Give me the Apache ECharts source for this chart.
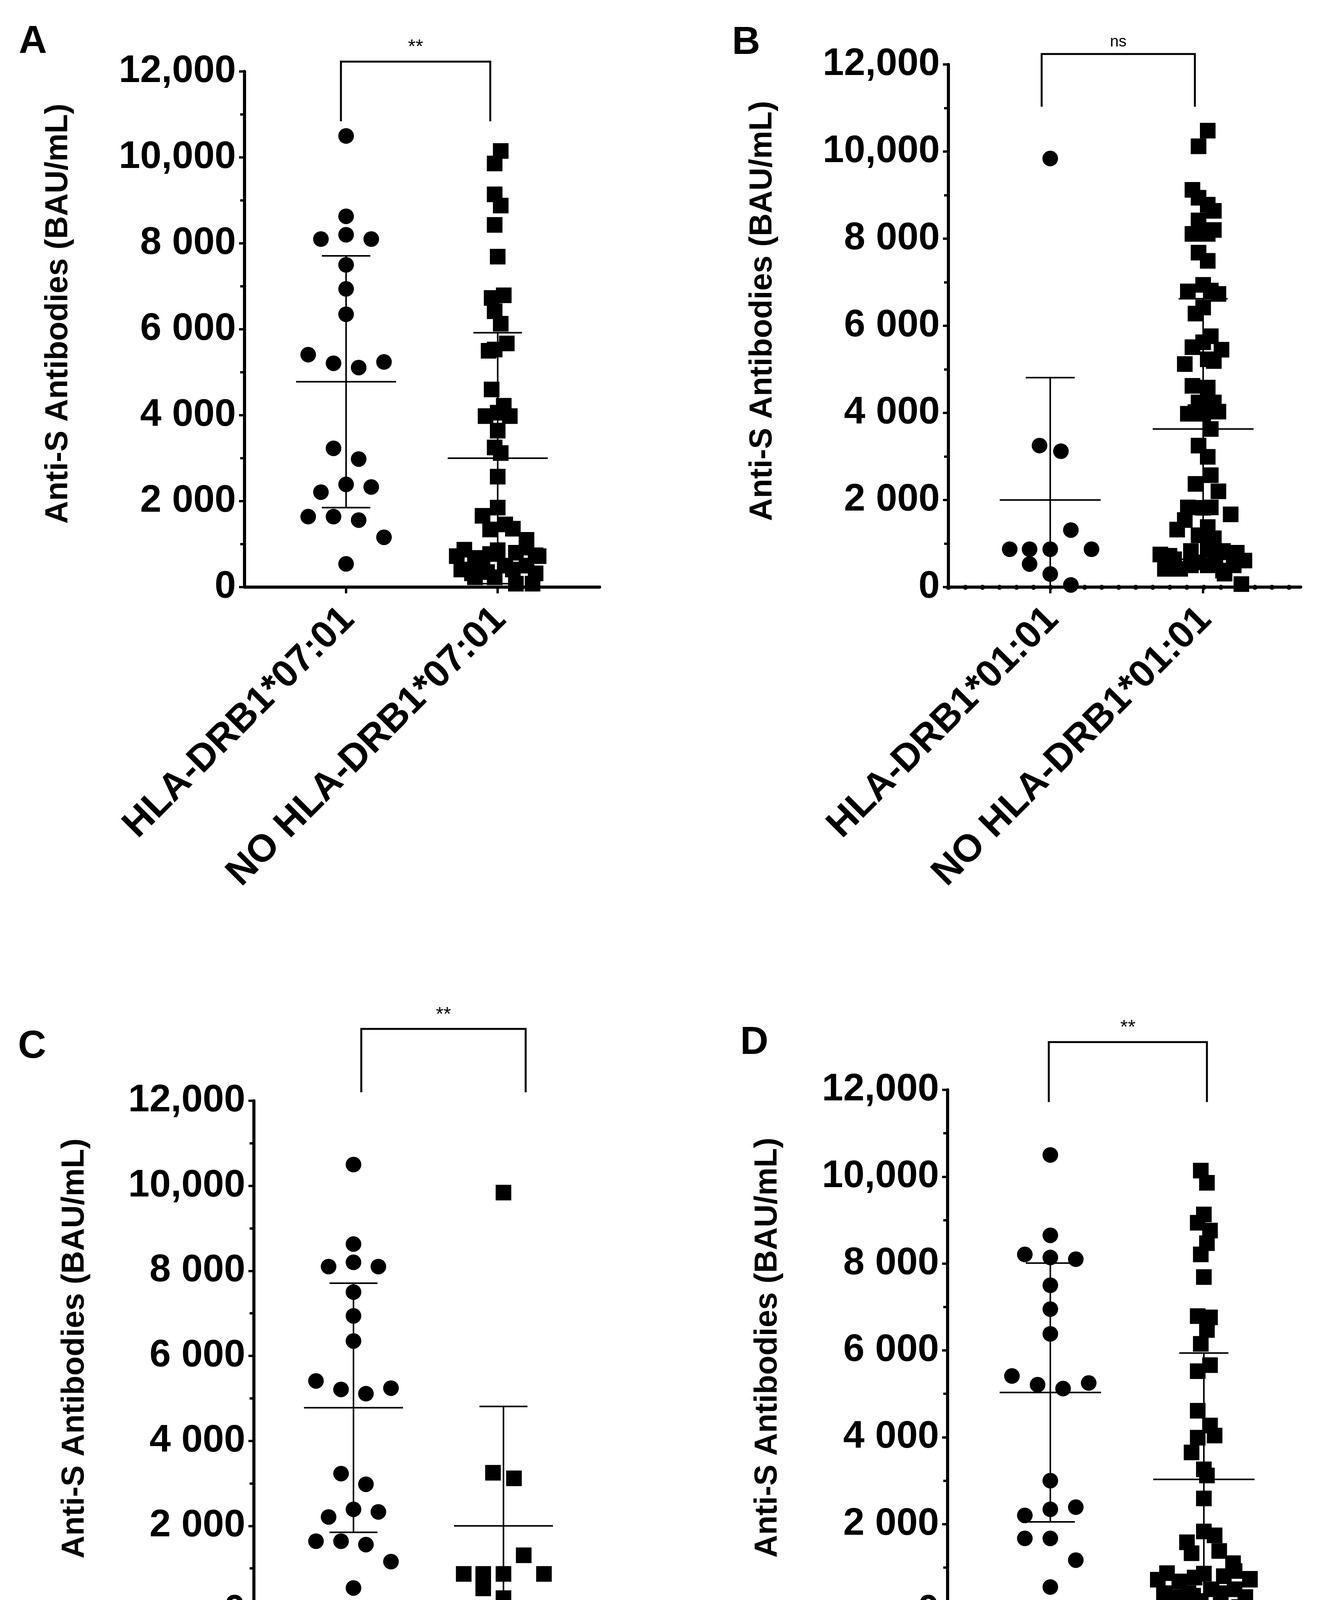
<!DOCTYPE html>
<html>
<head>
<meta charset="utf-8">
<script src="https://cdn.jsdelivr.net/npm/echarts@6/dist/echarts.min.js"></script>
<style>html,body{margin:0;padding:0;background:#fff}#c{width:3405px;height:4827px}</style>
</head>
<body>
<div id="c"></div>
<script>
// ---------------- DATA ----------------
const yTickValues = [0, 2000, 4000, 6000, 8000, 10000, 12000];
const yTickLabels = ['0', '2 000', '4 000', '6 000', '8 000', '10,000', '12,000'];
const yAxisTitle = 'Anti-S Antibodies (BAU/mL)';

const catsA = ['HLA-DRB1*07:01', 'NO HLA-DRB1*07:01'];
const catsB = ['HLA-DRB1*01:01', 'NO HLA-DRB1*01:01'];
const catsC = ['HLA-DRB1*07:01', 'HLA-DRB1*01:01'];
const catsD = ['H07:01', 'NO H07:01'];
const panelLetters = ['A', 'B', 'C', 'D'];
const significance = ['**', 'ns', '**', '**'];

// HLA-DRB1*07:01 carriers (BAU/mL) and horizontal jitter (fraction of category spacing)
const drb0701Values = [10500, 8630, 8100, 8200, 8100, 7500, 6940, 6350, 5410, 5210, 5110, 5240, 3230, 2980, 2390, 2210, 2330, 1640, 1640, 1560, 1160, 540];
const drb0701Jitter = [0, 0, -0.166, 0, 0.166, 0, 0, 0, -0.25, -0.083, 0.083, 0.25, -0.083, 0.083, 0, -0.166, 0.166, -0.25, -0.083, 0.083, 0.25, 0];

// NO HLA-DRB1*07:01
const noDrb0701Values = [10150, 9860, 9140, 8880, 8430, 7690, 6730, 6790, 6420, 6130, 5670, 5500, 5530, 4600, 4220, 3980, 3980, 4060, 3640, 3250, 3120, 2570, 1850, 1660, 1340, 1460, 1360, 1100, 870, 720, 860, 770, 740, 920, 800, 680, 410, 320, 410, 500, 410, 500, 350, 320, 80, 80, 230, 230, 720];
const noDrb0701Jitter = [0.02, -0.02, -0.02, 0.02, -0.02, 0, -0.04, 0.04, -0.02, 0.02, 0.06, -0.06, -0.02, -0.04, 0.04, -0.08, 0.08, 0, 0, -0.02, 0.02, 0, 0, -0.1, -0.05, 0.05, 0.1, 0.19, -0.22, -0.27, 0, -0.05, 0.25, 0.19, 0.12, -0.15, -0.24, -0.17, -0.1, 0.05, 0.1, 0.19, -0.07, 0.25, 0.12, 0.23, -0.15, -0.02, 0.27];

// HLA-DRB1*01:01 carriers
const drb0101Values = [9840, 3250, 3120, 1310, 870, 870, 870, 870, 530, 300, 50];
const drb0101Jitter = [0, -0.07, 0.07, 0.135, -0.265, -0.135, 0, 0.27, -0.135, 0, 0.135];

// NO HLA-DRB1*01:01
const noDrb0101Values = [10480, 10120, 9120, 8940, 8780, 8640, 8420, 8110, 8110, 8200, 7680, 7490, 6940, 6790, 6810, 6730, 6280, 6420, 5760, 5620, 5510, 5450, 5230, 5190, 5120, 4620, 4580, 4240, 4240, 3980, 4020, 4030, 3980, 3630, 3250, 2990, 2570, 2370, 2200, 1830, 1820, 1830, 1670, 1540, 1320, 1190, 1120, 1380, 750, 720, 420, 420, 830, 500, 860, 500, 830, 380, 790, 610, 500, 310, 70, 570, 640, 640];
const noDrb0101Jitter = [0.03, -0.03, -0.07, -0.03, 0.03, 0.07, -0.03, -0.07, 0.03, 0.07, -0.03, 0.03, 0, -0.1, 0.05, 0.1, -0.05, 0, 0.05, 0, -0.07, 0.12, 0.03, 0.07, -0.12, -0.07, 0.03, -0.03, 0.07, -0.1, -0.05, 0.1, 0, 0.05, -0.03, 0.03, 0.05, -0.05, 0.1, -0.1, 0, 0.05, 0.18, -0.12, -0.17, -0.03, 0.07, 0.03, -0.28, -0.22, -0.25, -0.15, -0.08, -0.08, 0.03, 0.03, 0.13, 0.13, 0.22, 0.27, 0.2, 0.14, 0.25, -0.03, 0.08, -0.19];

// H07:01 / NO H07:01
const h0701Values = [10500, 8650, 8210, 8140, 8100, 7500, 6950, 6380, 5410, 5210, 5120, 5250, 3000, 2340, 2390, 2200, 1670, 1670, 1170, 550];
const h0701Jitter = [0, 0, -0.166, 0, 0.166, 0, 0, 0, -0.25, -0.083, 0.083, 0.25, 0, 0, 0.166, -0.166, -0.166, 0, 0.166, 0];
const noH0701Values = [10140, 9860, 9130, 8940, 8760, 8470, 8210, 7690, 6790, 6760, 6470, 6150, 5660, 5520, 4610, 4270, 3990, 4040, 3650, 3260, 3120, 2590, 1830, 1740, 1580, 1330, 1380, 1100, 870, 720, 860, 770, 740, 920, 800, 680, 410, 320, 410, 500, 410, 500, 350, 320, 90, 90, 230, 230, 720];
const noH0701Jitter = [-0.02, 0.02, 0, -0.04, 0.04, 0.02, -0.02, 0, -0.04, 0.04, 0.02, -0.02, 0.04, -0.04, -0.04, 0.04, -0.04, 0.07, -0.08, 0, 0.02, 0, 0, 0.07, -0.11, -0.08, 0.1, 0.19, -0.24, -0.3, 0, -0.06, 0.3, 0.2, 0.13, -0.16, -0.26, -0.18, -0.1, 0.05, 0.11, 0.2, -0.07, 0.27, 0.11, 0.23, -0.16, -0.02, 0.3];

// Mean and SD (error bars) per panel, [group1, group2]
const meansA = [4780, 3000], sdsA = [2930, 2920];
const meansB = [2000, 3630], sdsB = [2810, 2990];
const meansC = [4780, 2000], sdsC = [2930, 2810];
const meansD = [5030, 3030], sdsD = [2980, 2910];

// ---------------- LAYOUT ----------------
const FONT = "'Liberation Sans', Arial, Helvetica, sans-serif";
const panels = [
  { grid: { left: 626, top: 183, width: 909, height: 1320 }, xMin: 0.330, xMax: 2.672, dotted: false,
    groups: [[drb0701Values, drb0701Jitter, 'circle'], [noDrb0701Values, noDrb0701Jitter, 'rect']],
    cats: catsA, means: meansA, sds: sdsA, bracket: [0.966, 1.951, 12230, 10840],
    letter: [48, 108], title: [150, 803] },
  { grid: { left: 2428, top: 165, width: 902, height: 1338 }, xMin: 0.334, xMax: 2.638, dotted: true,
    groups: [[drb0101Values, drb0101Jitter, 'circle'], [noDrb0101Values, noDrb0101Jitter, 'rect']],
    cats: catsB, means: meansB, sds: sdsB, bracket: [0.944, 1.946, 12240, 11030],
    letter: [1874, 110], title: [1953, 796] },
  { grid: { left: 650, top: 2818, width: 897, height: 1306 }, xMin: 0.336, xMax: 2.672, dotted: true,
    groups: [[drb0701Values, drb0701Jitter, 'circle'], [drb0101Values, drb0101Jitter, 'rect']],
    cats: catsC, means: meansC, sds: sdsC, bracket: [1.052, 2.148, 13690, 12200],
    letter: [46, 2680], title: [192, 3452] },
  { grid: { left: 2426, top: 2790, width: 921, height: 1334 }, xMin: 0.331, xMax: 2.674, dotted: false,
    groups: [[h0701Values, h0701Jitter, 'circle'], [noH0701Values, noH0701Jitter, 'rect']],
    cats: catsD, means: meansD, sds: sdsD, bracket: [0.99, 2.02, 13100, 11720],
    letter: [1895, 2670], title: [1966, 3450] }
];

const grids = [], xAxes = [], yAxes = [], series = [], graphics = [];

panels.forEach((p, pi) => {
  grids.push(Object.assign({ containLabel: false }, p.grid));
  const xi = xAxes.length;
  xAxes.push({
    type: 'value', gridIndex: pi, min: p.xMin, max: p.xMax, position: 'bottom',
    axisLine: { show: true, onZero: false, lineStyle: { color: '#000', width: 8 } },
    axisTick: { show: true, customValues: [1, 2], length: 16, lineStyle: { color: '#000', width: 6 } },
    axisLabel: {
      show: true, customValues: [1.015, 2.015], rotate: 45, margin: 68, interval: 0,
      fontSize: 98, fontWeight: 'bold', fontFamily: FONT, color: '#000',
      formatter: v => p.cats[Math.round(v) - 1] || ''
    },
    splitLine: { show: false }
  });
  if (p.dotted) {
    xAxes.push({
      type: 'value', gridIndex: pi, min: p.xMin, max: p.xMax, position: 'bottom',
      axisLine: { show: true, onZero: false, lineStyle: { color: '#000', width: 13, type: [0.1, 43.5], cap: 'round' } },
      axisTick: { show: false }, axisLabel: { show: false }, splitLine: { show: false }
    });
  }
  yAxes.push({
    type: 'value', gridIndex: pi, min: 0, max: 12000, interval: 2000,
    axisLine: { show: true, onZero: false, lineStyle: { color: '#000', width: 8 } },
    axisTick: { show: true, length: 14, lineStyle: { color: '#000', width: 6 } },
    minorTick: { show: true, splitNumber: 2, length: 11, lineStyle: { color: '#000', width: 6 } },
    axisLabel: {
      show: true, margin: 22, fontSize: 98, fontWeight: 'bold', fontFamily: FONT, color: '#000',
      formatter: v => { const k = yTickValues.indexOf(v); return k >= 0 ? yTickLabels[k] : ''; }
    },
    splitLine: { show: false }, minorSplitLine: { show: false }
  });

  // scatter groups
  p.groups.forEach((g, gi) => {
    const [vals, jit, sym] = g;
    series.push({
      type: 'scatter', xAxisIndex: xi, yAxisIndex: pi, symbol: sym, symbolSize: 40,
      itemStyle: { color: '#000', opacity: 1 }, z: 3, silent: true,
      data: vals.map((v, i) => [gi + 1 + jit[i], v])
    });
  });

  // mean +/- SD
  series.push({
    type: 'custom', xAxisIndex: xi, yAxisIndex: pi, z: 4, silent: true, clip: false,
    encode: { x: 0, y: 1 },
    data: p.means.map((m, i) => [i + 1, m, p.sds[i]]),
    renderItem: (params, api) => {
      const x = api.value(0), m = api.value(1), sd = api.value(2);
      const low = Math.max(0, m - sd), high = m + sd;
      const pm = api.coord([x, m]), ph = api.coord([x, high]), pl = api.coord([x, low]);
      const unit = api.size([1, 0])[0];
      const mh = 0.33 * unit, ch = 0.16 * unit;
      const st = { stroke: '#000', lineWidth: 4 };
      const children = [
        { type: 'line', shape: { x1: ph[0], y1: ph[1], x2: pl[0], y2: pl[1] }, style: st },
        { type: 'line', shape: { x1: pm[0] - mh, y1: pm[1], x2: pm[0] + mh, y2: pm[1] }, style: st },
        { type: 'line', shape: { x1: ph[0] - ch, y1: ph[1], x2: ph[0] + ch, y2: ph[1] }, style: st }
      ];
      if (m - sd > 0) children.push({ type: 'line', shape: { x1: pl[0] - ch, y1: pl[1], x2: pl[0] + ch, y2: pl[1] }, style: st });
      return { type: 'group', children };
    }
  });

  // significance bracket
  const sig = significance[pi];
  series.push({
    type: 'custom', xAxisIndex: xi, yAxisIndex: pi, z: 4, silent: true, clip: false,
    encode: { x: [0, 1], y: [2, 3] },
    data: [p.bracket],
    renderItem: (params, api) => {
      const a = api.coord([api.value(0), api.value(3)]);
      const b = api.coord([api.value(0), api.value(2)]);
      const c = api.coord([api.value(1), api.value(2)]);
      const d = api.coord([api.value(1), api.value(3)]);
      return { type: 'group', children: [
        { type: 'polyline', shape: { points: [a, b, c, d] }, style: { stroke: '#000', lineWidth: 5, fill: null } },
        { type: 'text', x: (b[0] + c[0]) / 2, y: b[1] - 10,
          style: { text: sig, fontSize: sig === 'ns' ? 40 : 50, fontFamily: FONT, fill: '#000', align: 'center', verticalAlign: 'bottom' } }
      ] };
    }
  });

  graphics.push({
    type: 'text', x: p.letter[0], y: p.letter[1],
    style: { text: panelLetters[pi], fontSize: 100, fontWeight: 'bold', fontFamily: FONT, fill: '#000', align: 'left', verticalAlign: 'middle' }
  });
  graphics.push({
    type: 'text', x: p.title[0], y: p.title[1], rotation: Math.PI / 2,
    style: { text: yAxisTitle, fontSize: 81, fontWeight: 'bold', fontFamily: FONT, fill: '#000', align: 'center', verticalAlign: 'middle' }
  });
});

const chart = echarts.init(document.getElementById('c'), null, { renderer: 'canvas', width: 3405, height: 4827 });
chart.setOption({
  backgroundColor: '#fff',
  animation: false,
  grid: grids, xAxis: xAxes, yAxis: yAxes, series: series, graphic: graphics
});
</script>
</body>
</html>
